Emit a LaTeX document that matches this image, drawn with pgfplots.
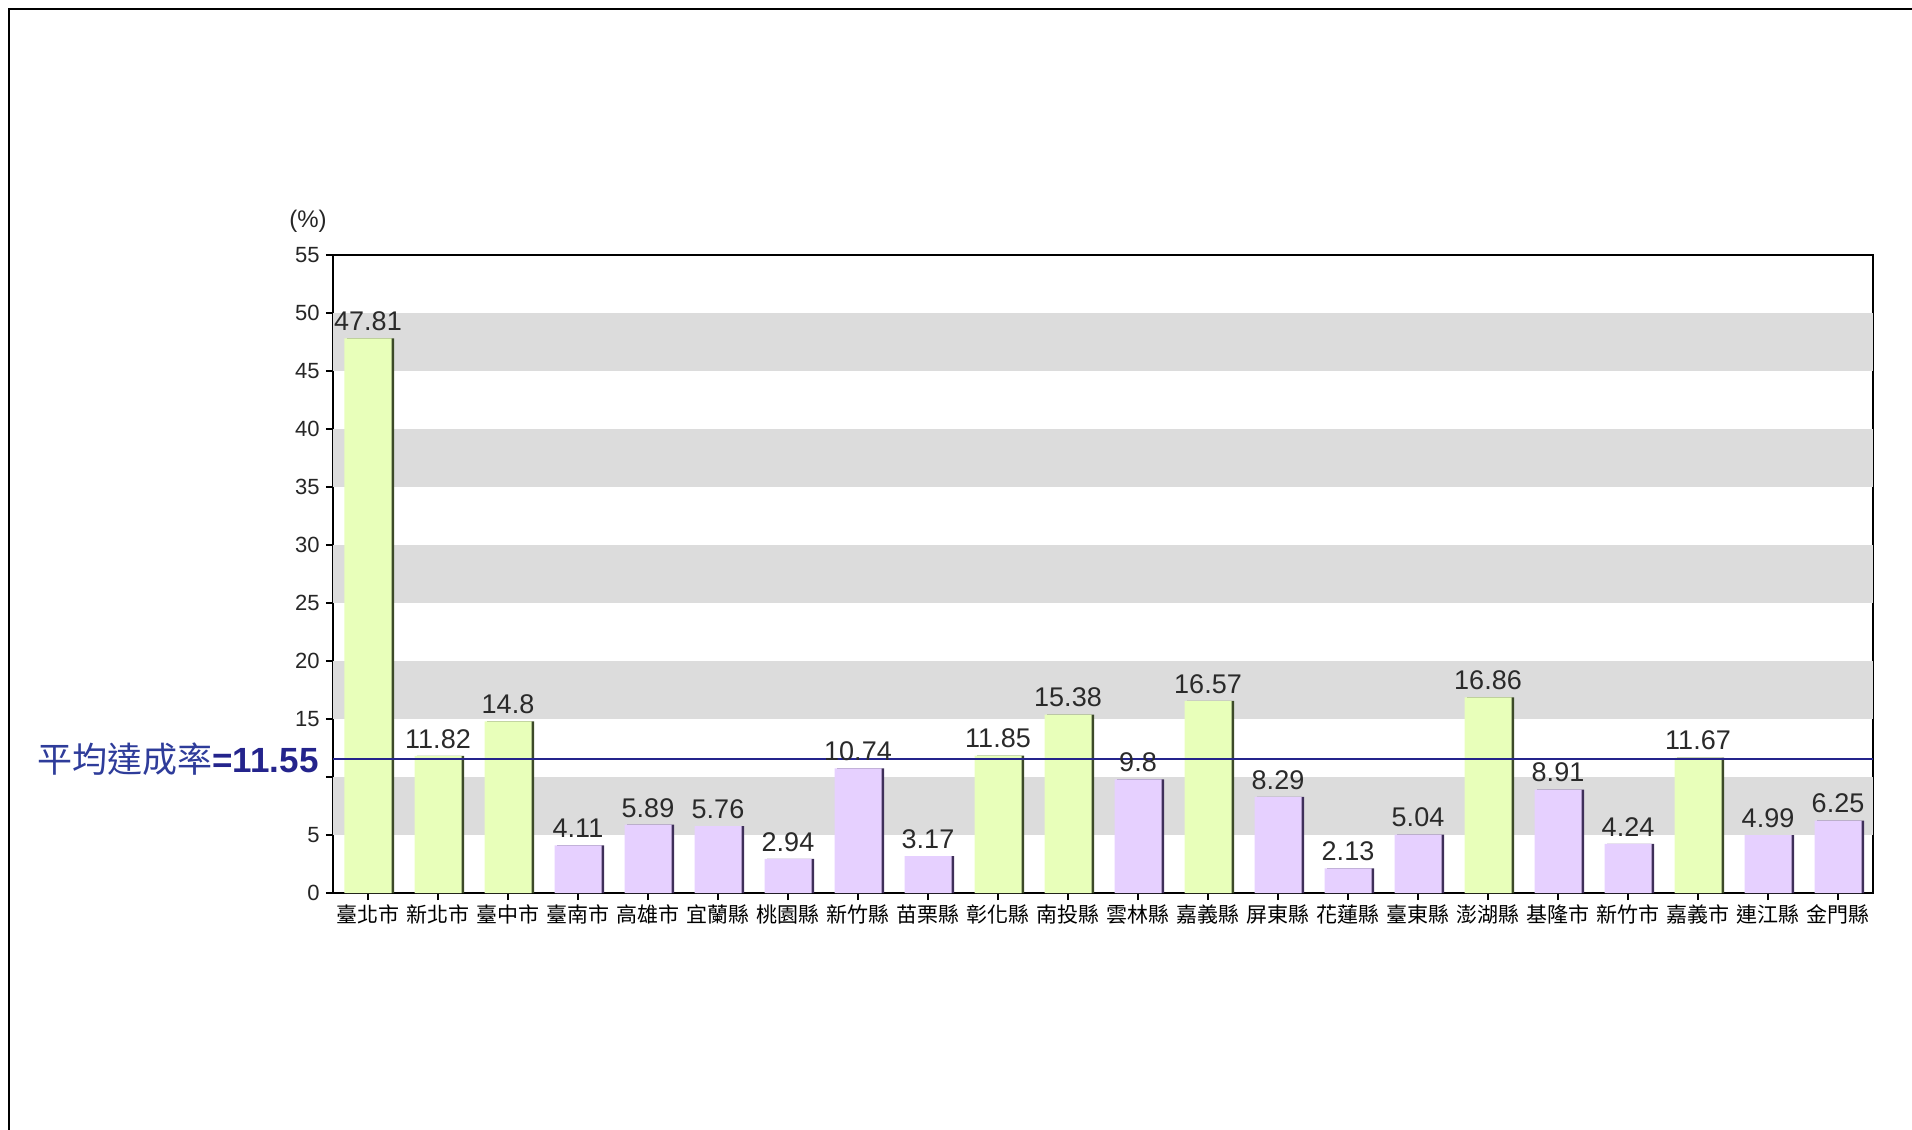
\documentclass[border=0pt]{standalone}
\usepackage{pgfplots}
\pgfplotsset{compat=1.18}
\usepackage{pgfplotstable}
\usepackage{fontspec}
\setmainfont{Liberation Sans}
\newfontfamily\cjk{Noto Sans CJK TC}
\definecolor{band}{HTML}{DCDCDC}
\definecolor{gfill}{HTML}{E8FFBA}
\definecolor{gedge}{HTML}{3C4A28}
\definecolor{pfill}{HTML}{E6D0FF}
\definecolor{pedge}{HTML}{3F2F5A}
\definecolor{avg}{HTML}{24248C}
\definecolor{avgl}{HTML}{2E3C9A}
\definecolor{vtxt}{HTML}{2A2A2A}

\pgfplotstableread{
x y lab
0 47.81 47.81
1 11.82 11.82
2 14.8 14.8
9 11.85 11.85
10 15.38 15.38
12 16.57 16.57
16 16.86 16.86
19 11.67 11.67
}\greendata

\pgfplotstableread{
x y lab
3 4.11 4.11
4 5.89 5.89
5 5.76 5.76
6 2.94 2.94
7 10.74 10.74
8 3.17 3.17
11 9.8 9.8
13 8.29 8.29
14 2.13 2.13
15 5.04 5.04
17 8.91 8.91
18 4.24 4.24
20 4.99 4.99
21 6.25 6.25
}\purpledata

\begin{document}
\begin{tikzpicture}
\useasboundingbox (0,0) rectangle (956pt,-565pt);
\draw[line width=1.2pt] (4.5pt,-566pt) -- (4.5pt,-4.5pt) -- (957pt,-4.5pt);
\begin{axis}[
  at={(166.5pt,-446.5pt)}, anchor=south west,
  width=770pt, height=319pt, scale only axis,
  xmin=-0.5, xmax=21.5, ymin=0, ymax=55,
  clip=false,
  xtick={0,...,21},
  xticklabels={臺北市,新北市,臺中市,臺南市,高雄市,宜蘭縣,桃園縣,新竹縣,苗栗縣,彰化縣,南投縣,雲林縣,嘉義縣,屏東縣,花蓮縣,臺東縣,澎湖縣,基隆市,新竹市,嘉義市,連江縣,金門縣},
  ytick={0,5,...,55},
  yticklabels={0,5,,15,20,25,30,35,40,45,50,55},
  xtick pos=bottom, ytick pos=left,
  tick align=outside,
  major tick length=3.5pt,
  tick style={black, line width=0.6pt},
  axis line style={black, line width=0.9pt},
  x tick label style={font=\cjk\fontsize{10.5}{12}\selectfont, color=black, inner sep=2pt},
  y tick label style={font=\fontsize{11}{13}\selectfont, color=black!85, inner sep=3pt},
]
% alternating background bands
\fill[band] (axis cs:-0.5,5) rectangle (axis cs:21.5,10);
\fill[band] (axis cs:-0.5,15) rectangle (axis cs:21.5,20);
\fill[band] (axis cs:-0.5,25) rectangle (axis cs:21.5,30);
\fill[band] (axis cs:-0.5,35) rectangle (axis cs:21.5,40);
\fill[band] (axis cs:-0.5,45) rectangle (axis cs:21.5,50);

% bar shadows (right edge)
\addplot[ybar, bar width=23.5pt, bar shift=1.3pt, fill=gedge, draw=none] table[x=x,y=y] {\greendata};
\addplot[ybar, bar width=23.5pt, bar shift=1.3pt, fill=pedge, draw=none] table[x=x,y=y] {\purpledata};
% bars
\addplot[ybar, bar width=23.5pt, bar shift=0pt, fill=gfill, draw=none,
  point meta=explicit symbolic,
  nodes near coords, nodes near coords align={vertical},
  every node near coord/.append style={font=\fontsize{13.5}{15}\selectfont, color=vtxt, inner sep=3.5pt}]
  table[x=x,y=y,meta=lab] {\greendata};
\addplot[ybar, bar width=23.5pt, bar shift=0pt, fill=pfill, draw=none,
  point meta=explicit symbolic,
  nodes near coords, nodes near coords align={vertical},
  every node near coord/.append style={font=\fontsize{13.5}{15}\selectfont, color=vtxt, inner sep=3.5pt}]
  table[x=x,y=y,meta=lab] {\purpledata};

% average line
\addplot[sharp plot, avg, line width=0.9pt, mark=none] coordinates {(-0.5,11.55) (21.5,11.55)};

\node[anchor=east, inner sep=0pt, font=\fontsize{17.5}{19}\selectfont] at (axis cs:-0.5,11.55) [xshift=-7pt] {{\cjk\color{avgl}平均達成率}{\color{avg}\textbf{=11.55}}};
\node[anchor=south, inner sep=0pt, font=\fontsize{12}{14}\selectfont, text=black!85] at (rel axis cs:0,1) [xshift=-12.5pt, yshift=11pt] {(\%)};
\end{axis}
\end{tikzpicture}
\end{document}
